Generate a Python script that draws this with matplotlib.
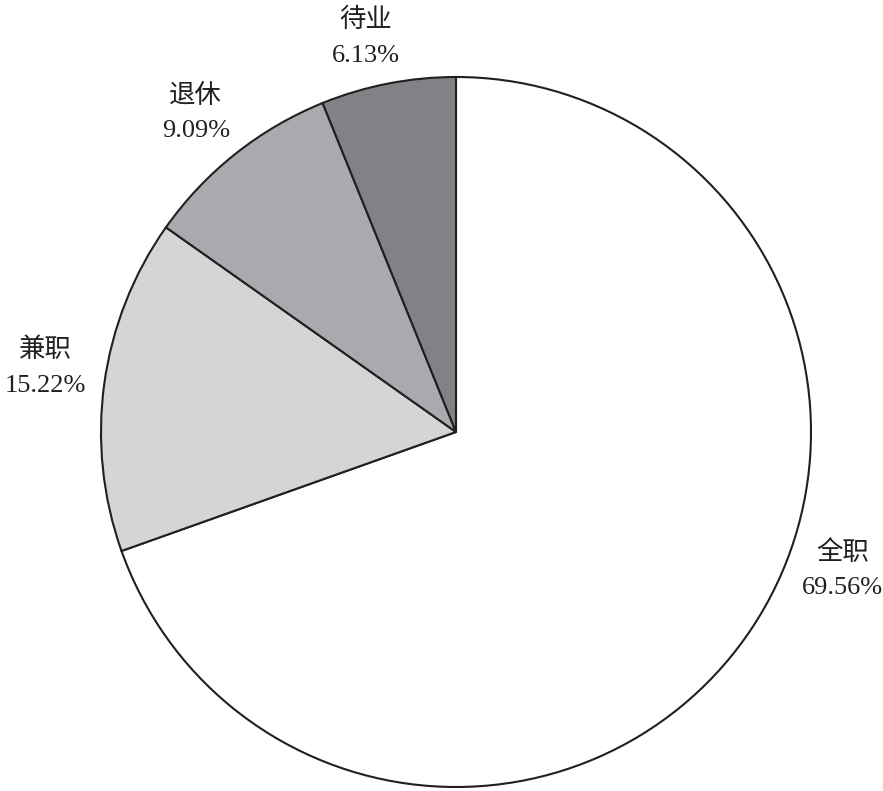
import numpy as np
import matplotlib.pyplot as plt

labels = ['全职', '兼职', '退休', '待业']
values = [69.56, 15.22, 9.09, 6.13]
colors = ['#ffffff', '#d4d5d7', '#a9aaad', '#818286']

plt.rcParams['font.family'] = ['Liberation Serif', 'Noto Sans CJK SC']

fig = plt.figure(figsize=(8.83, 7.91), dpi=100)
ax = fig.add_axes([101 / 883, 4 / 791, 710 / 883, 710 / 791])
wedges, _ = ax.pie(values, colors=colors, startangle=90, counterclock=False,
                   radius=1, wedgeprops=dict(edgecolor='#231f20', linewidth=1.5))
ax.set_xlim(-1, 1)
ax.set_ylim(-1, 1)
ax.set_aspect('equal')
ax.axis('off')

# label placement: angle (deg) and distance from centre
pos = [(-19.6, 1.155), (171.0, 1.17), (129.2, 1.16), (102.9, 1.14)]
for lab, v, (ang, r) in zip(labels, values, pos):
    t = np.deg2rad(ang)
    ax.text(r * np.cos(t), r * np.sin(t), f'{lab}\n{v:.2f}%', ha='center', va='center',
            fontsize=19, color='#231f20', linespacing=1.75, clip_on=False)

fig.savefig('out.png', dpi=100)
